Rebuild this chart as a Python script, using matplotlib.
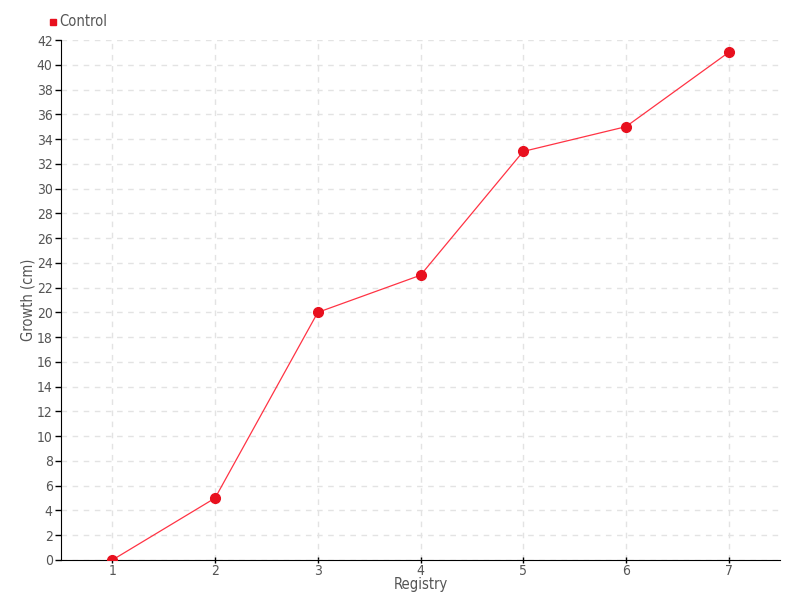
import matplotlib
matplotlib.use("Agg")
import matplotlib.pyplot as plt

registros = [1, 2, 3, 4, 5, 6, 7]
crecimiento = [0, 5, 20, 23, 33, 35, 41]
yticks = list(range(0, 43, 2))

plt.rcParams["font.family"] = "DejaVu Sans"
plt.rcParams["font.stretch"] = "condensed"
gris = "#555555"

fig = plt.figure(figsize=(8, 6), dpi=100)
ax = fig.add_axes([0.07625, 0.0667, 0.89875, 0.8666])

ax.plot(registros, crecimiento, color="#ff3344", linewidth=0.9, zorder=3)
ax.plot(registros, crecimiento, "o", color="#e8101e", markersize=7, zorder=4)

ax.set_xlim(0.5, 7.5)
ax.set_ylim(0, 42)
ax.set_xticks(registros)
ax.set_yticks(yticks)
ax.grid(True, linestyle=(0, (4, 4)), color="#e3e3e3", linewidth=1)
ax.set_axisbelow(True)

for lado in ["top", "right"]:
    ax.spines[lado].set_visible(False)
ax.spines["left"].set_color("black")
ax.spines["bottom"].set_color("black")
ax.tick_params(axis="y", length=4, width=1, colors=gris, labelsize=10, pad=2)
ax.tick_params(axis="x", length=4, width=1, colors=gris, labelsize=10, direction="inout", pad=1)
ax.tick_params(axis="both", color="black")

ax.set_xlabel("Registry", color=gris, fontsize=10.5)
ax.set_ylabel("Growth (cm)", color=gris, fontsize=10.5)
ax.xaxis.set_label_coords(0.5, -0.032)
ax.yaxis.set_label_coords(-0.036, 0.5)

fig.patches.append(plt.Rectangle((50 / 800, 1 - 25 / 600), 6 / 800, 6 / 600,
                                 transform=fig.transFigure, color="#e8101e"))
fig.text(59 / 800, 1 - 22 / 600, "Control", color=gris, fontsize=10.5, va="center")

fig.savefig("out.png", dpi=100)
